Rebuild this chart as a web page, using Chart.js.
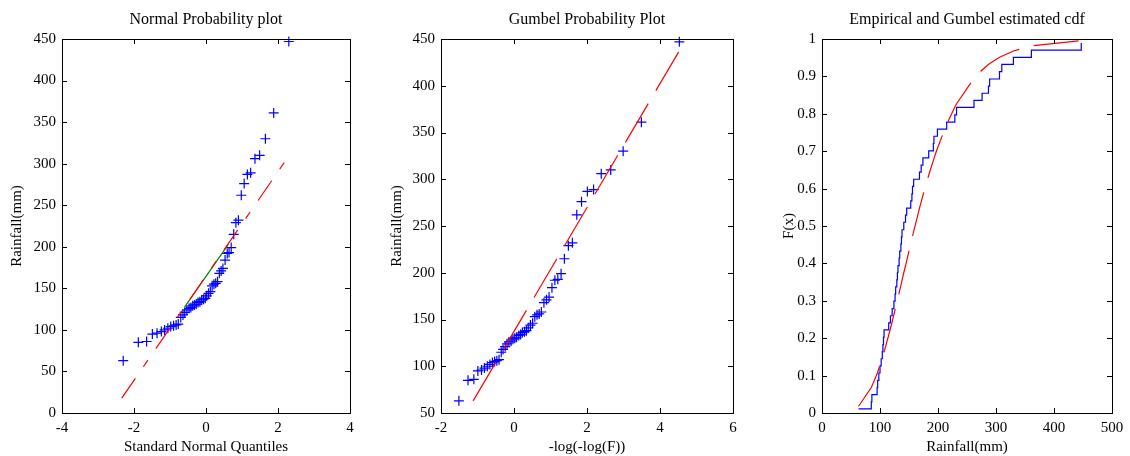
<!DOCTYPE html>
<html lang="en">
<head>
    <meta charset="UTF-8">
    <title>Rainfall probability plots</title>
    <script src="https://cdn.jsdelivr.net/npm/chart.js"></script>
    <style>
        body { margin: 0; background: #fff; }
        .panel { position: absolute; top: 0; height: 456px; }
    </style>
</head>
<body>
    <div class="panel" style="left:0; width:375px;"><canvas id="normalChart"></canvas></div>
    <div class="panel" style="left:380px; width:380px;"><canvas id="gumbelChart"></canvas></div>
    <div class="panel" style="left:760px; width:370px;"><canvas id="cdfChart"></canvas></div>

    <script>
        // sorted annual max rainfall (mm)
        const rainfall = [63, 85, 86, 95, 96, 98, 100, 102, 104, 105, 106, 107, 115, 118, 121, 124, 126, 127, 129, 130,
            131, 133, 134, 136, 137, 138, 141, 144, 146, 153, 155, 156, 158, 168, 171, 174, 184, 192, 193, 199,
            215, 229, 232, 262, 276, 287, 289, 306, 310, 330, 361, 447];

        // x positions on the normal plot
        const normalQ = [-2.30, -1.88, -1.65, -1.49, -1.36, -1.24, -1.15, -1.06, -0.98, -0.90, -0.83, -0.77, -0.70, -0.64,
            -0.59, -0.53, -0.47, -0.42, -0.37, -0.32, -0.27, -0.22, -0.17, -0.12, -0.07, -0.02, 0.02, 0.07, 0.12, 0.17,
            0.22, 0.27, 0.32, 0.37, 0.42, 0.47, 0.53, 0.59, 0.64, 0.70, 0.77, 0.83, 0.90, 0.98, 1.06, 1.15, 1.24, 1.36,
            1.49, 1.65, 1.88, 2.30];

        // x positions on the gumbel plot
        const gumbelX = [-1.51, -1.26, -1.10, -0.99, -0.89, -0.81, -0.73, -0.66, -0.59, -0.53, -0.47, -0.41, -0.35, -0.30,
            -0.24, -0.19, -0.14, -0.08, -0.03, 0.02, 0.07, 0.13, 0.18, 0.23, 0.29, 0.34, 0.39, 0.45, 0.51, 0.57, 0.63,
            0.69, 0.75, 0.82, 0.89, 0.96, 1.04, 1.12, 1.20, 1.29, 1.38, 1.49, 1.60, 1.72, 1.85, 2.01, 2.18, 2.39, 2.65,
            2.99, 3.49, 4.53];

        // empirical cdf levels
        const ecdfF = [0.011, 0.030, 0.049, 0.068, 0.087, 0.107, 0.126, 0.145, 0.164, 0.183, 0.203, 0.222, 0.241, 0.260,
            0.279, 0.299, 0.318, 0.337, 0.356, 0.375, 0.394, 0.414, 0.433, 0.452, 0.471, 0.490, 0.510, 0.529, 0.548,
            0.567, 0.586, 0.606, 0.625, 0.644, 0.663, 0.682, 0.701, 0.721, 0.740, 0.759, 0.778, 0.797, 0.817, 0.836,
            0.855, 0.874, 0.893, 0.913, 0.932, 0.951, 0.970, 0.989];

        // fitted lines
        const normFitX = [-2.34, 2.28];
        const normFitY = [18, 308];
        const normMidX = [-0.6, 0.62];
        const normMidY = [127, 203];
        const gumFitX = [-1.12, 4.63];
        const gumFitY = [63, 444];
        const gumCdfX = [63, 85, 95, 100, 107, 117, 124, 130, 136, 141, 146, 154, 158, 169, 176, 185, 194, 199, 215,
            229, 232, 262, 276, 288, 306, 310, 330, 361, 447];
        const gumCdfF = [0.018, 0.068, 0.105, 0.128, 0.163, 0.220, 0.263, 0.302, 0.341, 0.375, 0.407, 0.460, 0.485,
            0.553, 0.593, 0.641, 0.685, 0.708, 0.772, 0.818, 0.827, 0.895, 0.917, 0.933, 0.951, 0.954, 0.968, 0.9815, 0.996];

        const pts = (xs, ys) => xs.map((v, i) => ({ x: v, y: ys[i] }));
        const serif = '"Liberation Serif", "Times New Roman", serif';

        // box frame, inward ticks and a title centred on the plot area
        const boxPlugin = {
            id: 'box',
            afterDraw(chart, args, opts) {
                const { ctx, chartArea: a, scales } = chart;
                ctx.save();
                ctx.strokeStyle = '#000';
                ctx.lineWidth = 1;
                ctx.strokeRect(Math.round(a.left) + 0.5, Math.round(a.top) + 0.5,
                    Math.round(a.right - a.left), Math.round(a.bottom - a.top));
                ctx.beginPath();
                scales.x.ticks.forEach(t => {
                    const px = Math.round(scales.x.getPixelForValue(t.value)) + 0.5;
                    ctx.moveTo(px, a.bottom); ctx.lineTo(px, a.bottom - 5);
                    ctx.moveTo(px, a.top); ctx.lineTo(px, a.top + 5);
                });
                scales.y.ticks.forEach(t => {
                    const py = Math.round(scales.y.getPixelForValue(t.value)) + 0.5;
                    ctx.moveTo(a.left, py); ctx.lineTo(a.left + 5, py);
                    ctx.moveTo(a.right, py); ctx.lineTo(a.right - 5, py);
                });
                ctx.stroke();
                ctx.fillStyle = '#000';
                ctx.font = '16px ' + serif;
                ctx.textAlign = 'center';
                ctx.textBaseline = 'middle';
                ctx.fillText(opts.title, (a.left + a.right) / 2, 20);
                ctx.restore();
            }
        };

        function axis(min, max, step, title, fit, titlePad) {
            return {
                type: 'linear', min: min, max: max,
                grid: { display: false, drawTicks: false },
                border: { display: false },
                ticks: {
                    stepSize: step, color: '#000', padding: 6, font: { family: serif, size: 15 },
                    callback: v => String(Math.round(v * 10) / 10)
                },
                title: { display: true, text: title, color: '#000', font: { family: serif, size: 15 }, padding: titlePad },
                afterFit: fit
            };
        }

        function makeChart(id, datasets, title, xs, ys, padRight) {
            new Chart(document.getElementById(id), {
                type: 'scatter',
                data: { datasets: datasets },
                options: {
                    responsive: true,
                    maintainAspectRatio: false,
                    animation: false,
                    devicePixelRatio: 1,
                    layout: { padding: { top: 39, right: padRight, left: 0, bottom: 0 } },
                    plugins: { legend: { display: false }, tooltip: { enabled: false }, box: { title: title } },
                    scales: { x: xs, y: ys }
                },
                plugins: [boxPlugin]
            });
        }

        const crosses = xs => ({
            data: pts(xs, rainfall), pointStyle: 'cross', pointRadius: 5, pointBorderWidth: 1.2,
            borderColor: '#0000ff', backgroundColor: '#0000ff', showLine: false, clip: false
        });
        const line = (data, color, dash) => ({
            data: data, showLine: true, pointRadius: 0, borderColor: color, borderWidth: 1.2,
            borderDash: dash, fill: false
        });

        const fitX = s => { s.height = 43; };

        makeChart('normalChart', [
            line(pts(normFitX, normFitY), '#ff0000', [24, 14, 8, 14]),
            line(pts(normMidX, normMidY), '#008000', []),
            crosses(normalQ)
        ], 'Normal Probability plot',
            axis(-4, 4, 2, 'Standard Normal Quantiles', fitX, { top: 0, bottom: 0 }),
            axis(0, 450, 50, 'Rainfall(mm)', s => { s.width = 62; }, { top: 8, bottom: 0 }), 25);

        makeChart('gumbelChart', [
            line(pts(gumFitX, gumFitY), '#ff0000', [45, 15]),
            crosses(gumbelX)
        ], 'Gumbel Probability Plot',
            axis(-2, 6, 2, '-log(-log(F))', fitX, { top: 0, bottom: 0 }),
            axis(50, 450, 50, 'Rainfall(mm)', s => { s.width = 61; }, { top: 8, bottom: 0 }), 27);

        makeChart('cdfChart', [
            line(pts(gumCdfX, gumCdfF), '#ff0000', [45, 15]),
            Object.assign(line(pts(rainfall, ecdfF), '#0000ff', []), { stepped: true })
        ], 'Empirical and Gumbel estimated cdf',
            axis(0, 500, 100, 'Rainfall(mm)', fitX, { top: 0, bottom: 0 }),
            axis(0, 1, 0.1, 'F(x)', s => { s.width = 62; }, { top: 20, bottom: 0 }), 18);
    </script>
</body>
</html>
